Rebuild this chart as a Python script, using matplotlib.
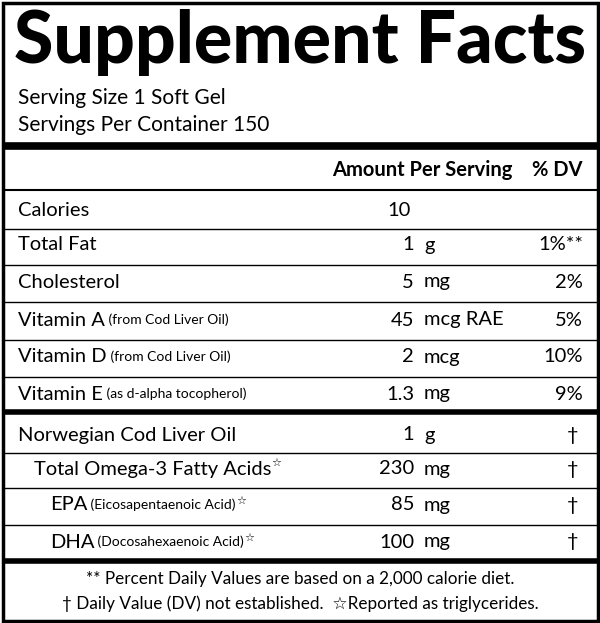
import matplotlib
matplotlib.use("Agg")
import matplotlib.pyplot as plt

plt.rcParams['font.family'] = ['Lato', 'DejaVu Sans']

title = "Supplement Facts"
serving = ["Serving Size 1 Soft Gel", "Servings Per Container 150"]
header = ["Amount Per Serving", "% DV"]

names1 = ["Calories", "Total Fat", "Cholesterol", "Vitamin A", "Vitamin D", "Vitamin E"]
notes1 = ["", "", "", "(from Cod Liver Oil)", "(from Cod Liver Oil)", "(as d-alpha tocopherol)"]
amounts1 = ["10", "1", "5", "45", "2", "1.3"]
units1 = ["", "g", "mg", "mcg RAE", "mcg", "mg"]
dv1 = ["", "1%**", "2%", "5%", "10%", "9%"]

names2 = ["Norwegian Cod Liver Oil", "Total Omega-3 Fatty Acids", "EPA", "DHA"]
notes2 = ["", "", "(Eicosapentaenoic Acid)", "(Docosahexaenoic Acid)"]
stars2 = ["", "☆", "☆", "☆"]
indent2 = [0, 1, 2, 2]
amounts2 = ["1", "230", "85", "100"]
units2 = ["g", "mg", "mg", "mg"]
dv2 = ["†", "†", "†", "†"]

footnotes = ["** Percent Daily Values are based on a 2,000 calorie diet.",
             "† Daily Value (DV) not established.  ☆Reported as triglycerides."]

fig = plt.figure(figsize=(6, 6.23), dpi=100)
ax = fig.add_axes([0, 0, 1, 1])
ax.set_xlim(0, 600); ax.set_ylim(623, 0); ax.axis('off')

def hline(y, lw):
    ax.plot([2, 598], [y, y], color='black', lw=lw, solid_capstyle='butt')

ax.add_patch(plt.Rectangle((2.5, 2.5), 595, 618, fill=False, lw=2.5, ec='black'))

ax.text(300, 42, title, fontsize=51.5, fontweight='black', ha='center', va='center')
ax.text(18, 98, serving[0], fontsize=15, va='center')
ax.text(18, 125, serving[1], fontsize=15, va='center')
hline(146, 5.5)
ax.text(512, 170, header[0], fontsize=14.5, fontweight='bold', ha='right', va='center')
ax.text(583, 170, header[1], fontsize=14.5, fontweight='bold', ha='right', va='center')
hline(190, 1.5)

NX, AX, UX, DX = 18, 414, 424, 583
fs = 14.5
ys1 = [210, 245, 282, 320, 357, 394]
for i, y in enumerate(ys1):
    t = ax.text(NX, y, names1[i], fontsize=fs, va='center')
    if notes1[i]:
        ax.annotate(" " + notes1[i], xycoords=t, xy=(1, 0.5), va='center', fontsize=10)
    ax.text(AX if i else 411, y, amounts1[i], fontsize=fs, ha='right', va='center')
    ax.text(UX, y, units1[i], fontsize=fs, va='center')
    ax.text(DX, y, dv1[i], fontsize=fs, ha='right', va='center')
    if i < len(ys1) - 1:
        hline((y + ys1[i + 1]) / 2 + 1, 1.0)
hline(412, 4)

ys2 = [435, 469, 505, 542]
for i, y in enumerate(ys2):
    t = ax.text(NX + 16 * indent2[i], y, names2[i], fontsize=fs, va='center')
    last = t
    if notes2[i]:
        last = ax.annotate(" " + notes2[i], xycoords=t, xy=(1, 0.5), va='center', fontsize=10)
    if stars2[i]:
        ax.annotate(stars2[i], xycoords=last, xy=(1, 0.9), va='center', fontsize=8)
    ax.text(AX, y, amounts2[i], fontsize=fs, ha='right', va='center')
    ax.text(UX, y, units2[i], fontsize=fs, va='center')
    ax.text(DX - 10, y, dv2[i], fontsize=fs, ha='center', va='center')
    if i < len(ys2) - 1:
        hline((y + ys2[i + 1]) / 2 + 1, 1.0)
hline(561, 4)

ax.text(300, 579, footnotes[0], fontsize=12.3, ha='center', va='center')
ax.text(300, 604, footnotes[1], fontsize=12.3, ha='center', va='center')

fig.savefig("out.png", dpi=100)
